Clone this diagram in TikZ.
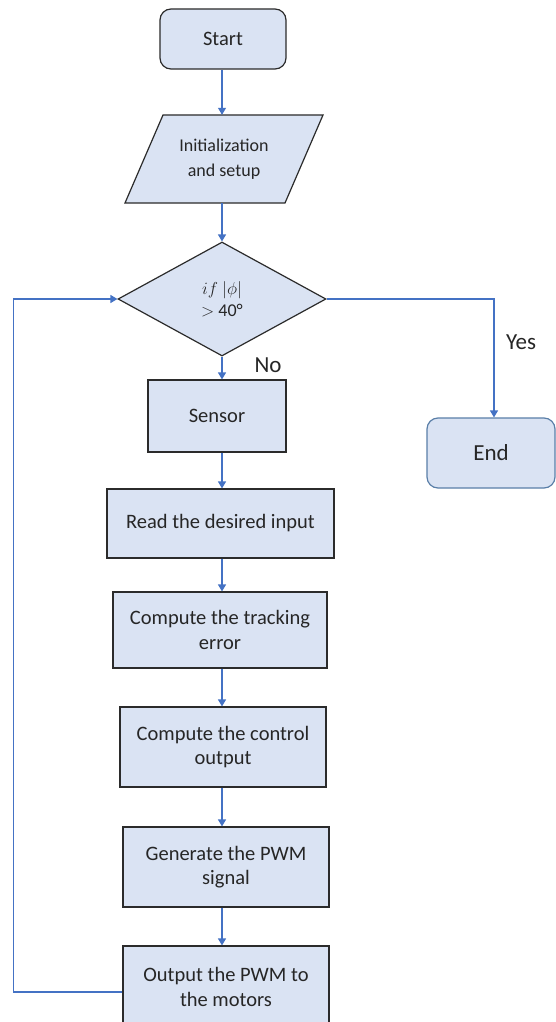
\documentclass[tikz,border=0pt]{standalone}
\usepackage{fontspec}
\setmainfont{Carlito}
\usetikzlibrary{shapes.geometric,arrows.meta,calc}
\definecolor{boxfill}{HTML}{DAE3F3}
\definecolor{boxline}{HTML}{2B2B2B}
\definecolor{endline}{HTML}{5A7FA8}
\definecolor{flowblue}{HTML}{4472C4}
\definecolor{txt}{HTML}{262626}
\begin{document}
\begin{tikzpicture}[x=1pt,y=-1pt,
  proc/.style={draw=boxline, fill=boxfill, line width=1.2pt, text=txt,
    align=center, inner sep=0pt, font=\fontsize{20.5}{24.5}\selectfont},
  term/.style={proc, rounded corners=11pt},
  decision/.style={proc, shape=diamond},
  flow/.style={draw=flowblue, line width=1.2pt, -{Triangle[width=8pt,length=7pt]}},
  lbl/.style={text=txt, inner sep=0pt, font=\fontsize{23}{26}\selectfont}]
\useasboundingbox (0,0) rectangle (556,1022);
\clip (0,0) rectangle (556,1022);
\fill[white] (0,0) rectangle (556,1022);

\coordinate (spine) at (222,0);

% terminals and steps
\node[term, minimum width=126, minimum height=60] (start) at (223,39) {Start};

% input/output parallelogram
\coordinate (ic) at (224,159);
\filldraw[draw=boxline, fill=boxfill, line width=1.2pt]
  ($(ic)+(-61,-44)$) -- ($(ic)+(99,-44)$) -- ($(ic)+(61,44)$) -- ($(ic)+(-99,44)$) -- cycle;
\node[text=txt, align=center, inner sep=0pt, minimum height=88,
  font=\fontsize{18}{25}\selectfont] (init) at (ic) {Initialization\\and setup};

\node[decision, minimum width=208, minimum height=114,
  font=\fontsize{18}{23}\selectfont] (dec) at (222,299)
  {$if\ |\phi|$\\[-1pt]$>$ 40°};

\node[proc, minimum width=138, minimum height=72] (sensor) at (217,416) {Sensor};
\node[proc, minimum width=227, minimum height=69] (read) at (220.5,523.5) {Read the desired input};
\node[proc, minimum width=214, minimum height=76] (track) at (220,630) {Compute the tracking\\error};
\node[proc, minimum width=206, minimum height=80] (ctrl) at (223,747) {Compute the control\\output};
\node[proc, minimum width=206, minimum height=80] (pwm) at (226,867) {Generate the PWM\\signal};
\node[proc, minimum width=206, minimum height=82] (out) at (226,987) {Output the PWM to\\the motors};

\node[term, draw=endline, minimum width=128, minimum height=70,
  font=\fontsize{23}{26}\selectfont] (end) at (491,453) {End};

% branch labels
\node[lbl] (no) at (268,365) {No};
\node[lbl] (yes) at (521,342) {Yes};

% connectors
\draw[flow] (start.south -| spine) -- (init.north -| spine);
\draw[flow] (init.south -| spine) -- (dec.north);
\draw[flow] (dec.south) -- (sensor.north -| spine);
\draw[flow] (sensor.south -| spine) -- (read.north -| spine);
\draw[flow] (read.south -| spine) -- (track.north -| spine);
\draw[flow] (track.south -| spine) -- (ctrl.north -| spine);
\draw[flow] (ctrl.south -| spine) -- (pwm.north -| spine);
\draw[flow] (pwm.south -| spine) -- (out.north -| spine);
\draw[flow] (dec.east) -| ([xshift=3pt]end.north);
\draw[flow] ([yshift=-5pt]out.west) -- ++(-109,0) |- (dec.west);
\end{tikzpicture}
\end{document}
